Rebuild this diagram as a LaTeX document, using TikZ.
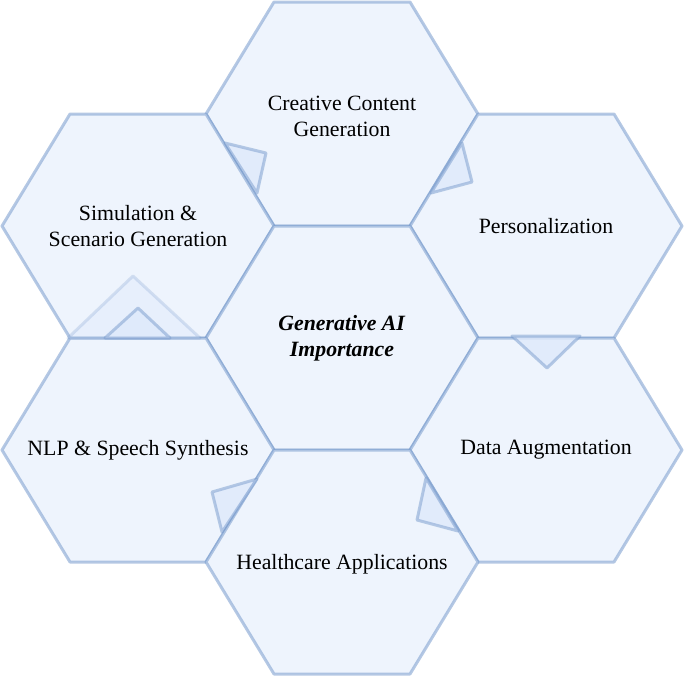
\documentclass[tikz,border=0pt]{standalone}
\usepackage{fontspec}
\setmainfont{Liberation Serif}
\definecolor{hexfill}{RGB}{238,244,253}
\definecolor{hexline}{RGB}{120,155,205}
\definecolor{tipfill}{RGB}{222,233,251}
\begin{document}
\begin{tikzpicture}[x=0.5pt,y=-0.5pt, font=\fontsize{10.9}{13}\selectfont, line join=round, line cap=round,
  hex/.style={fill=hexfill, draw=hexline, draw opacity=0.55, line width=1.5pt},
  tip/.style={fill=tipfill, fill opacity=0.8, draw=hexline, draw opacity=0.5, line width=1.5pt},
  lbl/.style={align=center, text=black}]
\useasboundingbox (0,0) rectangle (685,677);
\def \hw{136}
\def \hh{112}
% the seven cells
\foreach \x/\y in {342/114, 138/226, 546/226, 342/338, 138/450, 546/450, 342/562}
  \draw[hex, shift={(\x,\y)}] (-\hw,0)--(-\hw/2,-\hh)--(\hw/2,-\hh)--(\hw,0)--(\hw/2,\hh)--(-\hw/2,\hh)--cycle;
% arrow tips left over on the borders
\draw[tip] (225,143)--(266,153)--(257,193)--cycle;
\draw[tip] (462,143)--(472,182)--(431,193)--cycle;
\draw[tip, fill opacity=0.4, draw opacity=0.25] (68,338)--(133,276)--(200,338)--cycle;
\draw[tip] (105,338)--(138,308)--(170,338)--cycle;
\draw[tip] (512,336)--(580,336)--(547,368)--cycle;
\draw[tip] (257,479)--(212,492)--(222,532)--cycle;
\draw[tip] (426,478)--(417,520)--(458,531)--cycle;
% labels
\node[lbl] (core) at (342,338) {\textbf{\textit{Generative AI}}\\\textbf{\textit{Importance}}};
\node[lbl] (crea) at (342,116) {Creative Content\\Generation};
\node[lbl] (simu) at (138,226) {Simulation \&\\Scenario Generation};
\node[lbl] (pers) at (546,226) {Personalization};
\node[lbl] (nlp) at (138,450) {NLP \& Speech Synthesis};
\node[lbl] (data) at (546,450) {Data Augmentation};
\node[lbl] (heal) at (342,564) {Healthcare Applications};
\end{tikzpicture}
\end{document}
